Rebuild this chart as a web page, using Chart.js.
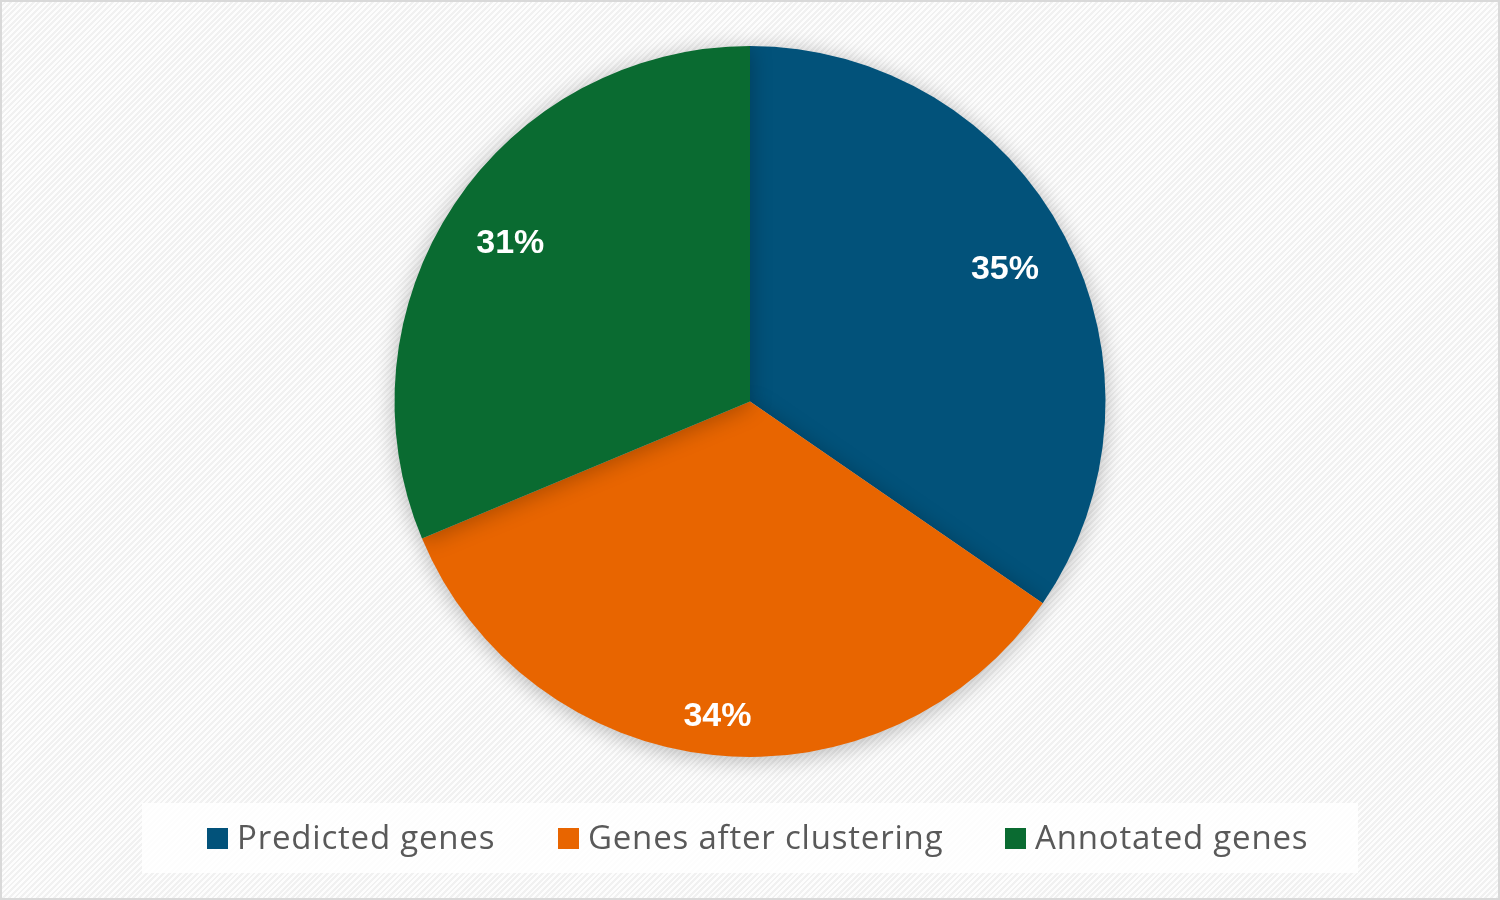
<!DOCTYPE html>
<html>
<head>
<meta charset="utf-8">
<script src="https://cdn.jsdelivr.net/npm/chart.js@4.4.1/dist/chart.umd.min.js"></script>
<style>
  html, body { margin: 0; padding: 0; }
  body {
    width: 1500px; height: 900px; overflow: hidden; position: relative;
    background: #ffffff;
  }
  #frame {
    position: absolute; left: 0; top: 0; width: 1496px; height: 896px;
    border: 2px solid #d9d9d9;
    background-color: #fbfbfb;
    background-image: repeating-linear-gradient(-45deg, #f1f1f1 0px, #f1f1f1 2px, #fdfdfd 2px, #fdfdfd 4px);
  }
  #wrap { position: absolute; left: 0; top: 0; width: 1500px; height: 900px; }
  #legend {
    position: absolute; left: 142px; top: 803px; width: 1216px; height: 70px;
    background: rgba(255,255,255,0.85);
    font-family: "Open Sans", "Noto Sans", sans-serif; font-size: 33px; color: #595959;
    letter-spacing: 0.8px;
  }
  .item { position: absolute; top: 0; height: 70px; line-height: 70px; white-space: nowrap; }
  .sw { position: absolute; top: 25px; width: 21px; height: 21px; }
  .tx { position: absolute; left: 30px; top: -1px; }
</style>
</head>
<body>
<div id="frame"></div>
<div id="wrap"><canvas id="c" width="1500" height="900"></canvas></div>
<div id="legend"></div>
<script>
const categories = ["Predicted genes", "Genes after clustering", "Annotated genes"];
const values = [34.6, 34.1, 31.3];
const colors = ["#02527a", "#e86500", "#0a6b31"];
const legendX = [65, 416, 863];
const labelRadius = [0.81, 0.885, 0.81];

const legend = document.getElementById('legend');
categories.forEach((name, i) => {
  const it = document.createElement('div');
  it.className = 'item';
  it.style.left = legendX[i] + 'px';
  it.innerHTML = '<span class="sw" style="background:' + colors[i] + '"></span><span class="tx">' + name + '</span>';
  legend.appendChild(it);
});

const shadowPlugin = {
  id: 'shadow',
  beforeDatasetsDraw(chart) {
    const ctx = chart.ctx;
    ctx.save();
    ctx.shadowColor = 'rgba(0,0,0,0.28)';
    ctx.shadowBlur = 22;
    ctx.shadowOffsetX = 0;
    ctx.shadowOffsetY = 3;
  },
  afterDatasetsDraw(chart) {
    chart.ctx.restore();
  }
};

const labelPlugin = {
  id: 'pctLabels',
  afterDatasetsDraw(chart) {
    const ctx = chart.ctx;
    const meta = chart.getDatasetMeta(0);
    const total = values.reduce((a, b) => a + b, 0);
    ctx.save();
    ctx.fillStyle = '#ffffff';
    ctx.font = 'bold 34px "Liberation Sans", Arial, sans-serif';
    ctx.textAlign = 'center';
    ctx.textBaseline = 'middle';
    meta.data.forEach((arc, i) => {
      const p = arc.getProps(['startAngle', 'endAngle', 'outerRadius', 'x', 'y'], true);
      const mid = (p.startAngle + p.endAngle) / 2;
      const r = p.outerRadius * labelRadius[i];
      const x = p.x + Math.cos(mid) * r;
      const y = p.y + Math.sin(mid) * r + 2;
      ctx.fillText(Math.round(values[i] / total * 100) + '%', x, y);
    });
    ctx.restore();
  }
};

new Chart(document.getElementById('c'), {
  type: 'pie',
  data: {
    labels: categories,
    datasets: [{
      data: values,
      backgroundColor: colors,
      borderWidth: 0
    }]
  },
  options: {
    responsive: false,
    animation: false,
    layout: { padding: { top: 46, bottom: 143, left: 0, right: 0 } },
    plugins: {
      legend: { display: false },
      tooltip: { enabled: false }
    }
  },
  plugins: [shadowPlugin, labelPlugin]
});
</script>
</body>
</html>
